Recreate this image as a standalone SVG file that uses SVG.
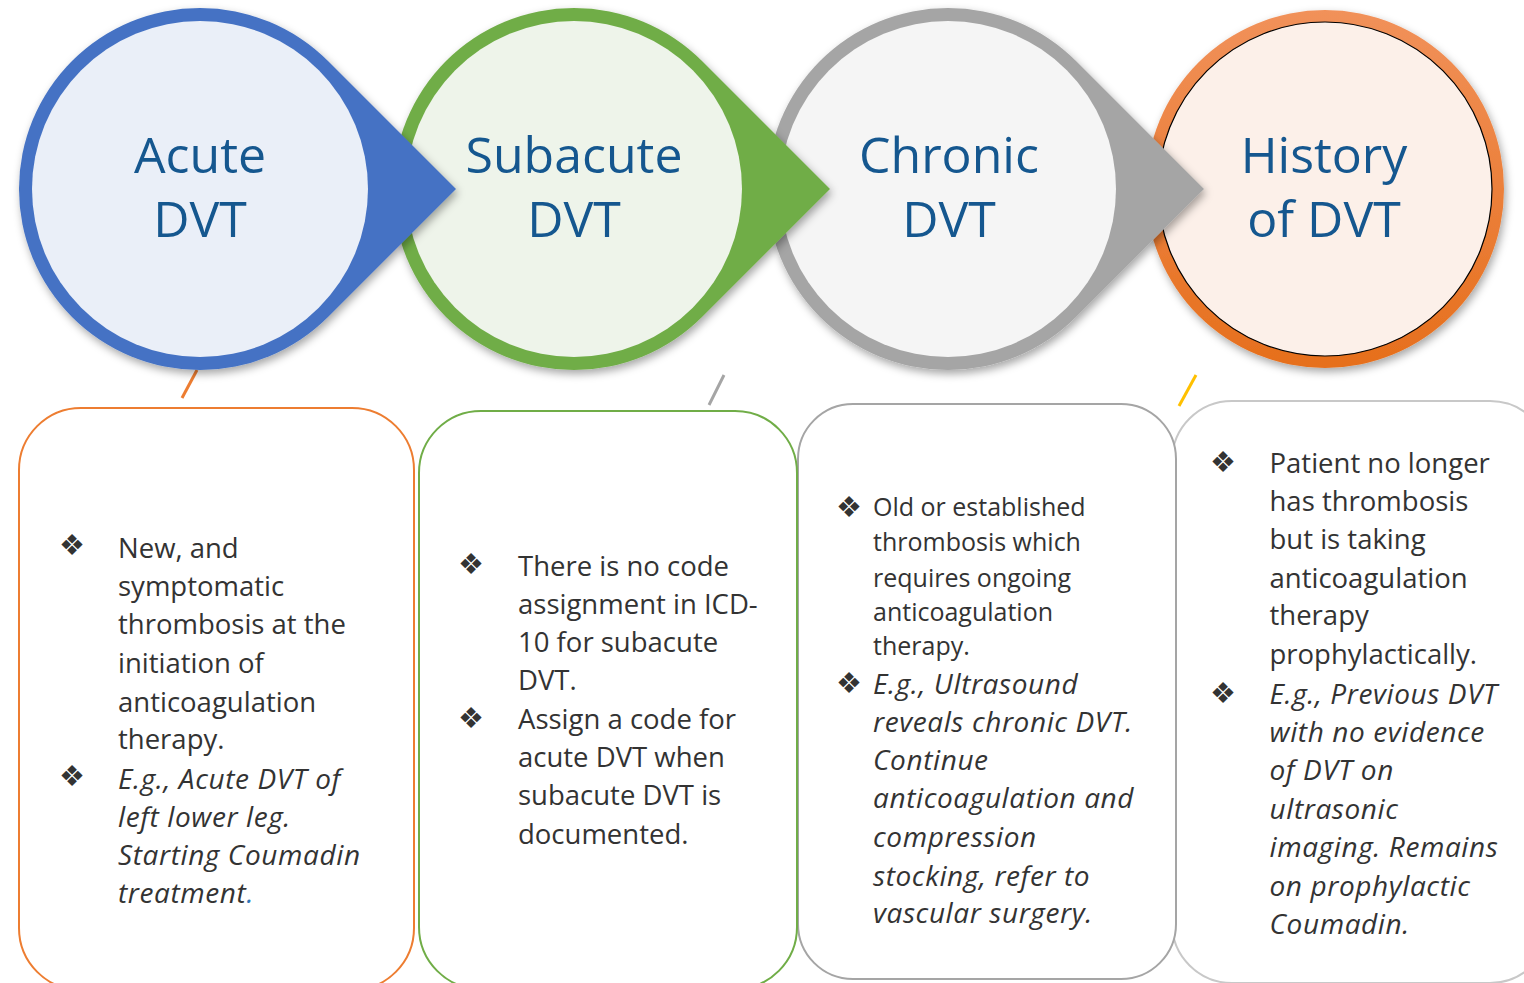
<svg xmlns="http://www.w3.org/2000/svg" width="1524" height="983" viewBox="0 0 1524 983">
<style>
.title{font-family:"Open Sans","Noto Sans",sans-serif;font-size:50px;fill:#15578F;text-anchor:middle}
.body{font-family:"Open Sans","Noto Sans",sans-serif;font-size:27.5px;fill:#333333}
.small{font-size:25px}
.it{font-style:italic;font-size:28px;letter-spacing:0.6px}
.bul{font-family:"DejaVu Sans",sans-serif;font-size:29px;fill:#333333;text-anchor:middle}
.box{fill:#FFFFFF;stroke-width:2}
.tick{stroke-width:3;stroke-linecap:butt}
</style>
<defs>
<filter id="sh" x="-20%" y="-20%" width="140%" height="140%">
<feDropShadow dx="2" dy="4" stdDeviation="4" flood-color="#000" flood-opacity="0.35"/>
</filter>
<linearGradient id="og" x1="0" y1="0" x2="0" y2="1">
<stop offset="0" stop-color="#F1915A"/>
<stop offset="1" stop-color="#E66F1C"/>
</linearGradient>
</defs>
<rect width="1524" height="983" fill="#FFFFFF"/>

<g id="box4">
<rect class="box" x="1172" y="401" width="378" height="582" rx="60" stroke="#C8C8C8"/>
<text class="bul" x="1223" y="472">❖</text>
<text class="bul" x="1223" y="703">❖</text>
<text class="body" x="1269.5">
<tspan x="1269.5" y="472.5">Patient no longer</tspan>
<tspan x="1269.5" y="511">has thrombosis</tspan>
<tspan x="1269.5" y="549">but is taking</tspan>
<tspan x="1269.5" y="587.5">anticoagulation</tspan>
<tspan x="1269.5" y="625">therapy</tspan>
<tspan x="1269.5" y="664">prophylactically.</tspan>
</text>
<text class="body it" x="1269.5">
<tspan x="1269.5" y="704">E.g., Previous DVT</tspan>
<tspan x="1269.5" y="742">with no evidence</tspan>
<tspan x="1269.5" y="780">of DVT on</tspan>
<tspan x="1269.5" y="818.5">ultrasonic</tspan>
<tspan x="1269.5" y="857">imaging. Remains</tspan>
<tspan x="1269.5" y="895.5">on prophylactic</tspan>
<tspan x="1269.5" y="933.5">Coumadin.</tspan>
</text>
</g>

<g id="box3">
<rect class="box" x="798" y="404" width="378" height="575" rx="55" stroke="#A5A5A5"/>
<text class="bul" x="849" y="517">❖</text>
<text class="bul" x="849" y="693">❖</text>
<text class="body small">
<tspan x="873" y="516">Old or established</tspan>
<tspan x="873" y="551">thrombosis which</tspan>
<tspan x="873" y="587">requires ongoing</tspan>
<tspan x="873" y="621">anticoagulation</tspan>
<tspan x="873" y="655">therapy.</tspan>
</text>
<text class="body it">
<tspan x="873" y="694">E.g., Ultrasound</tspan>
<tspan x="873" y="732">reveals chronic DVT.</tspan>
<tspan x="873" y="770">Continue</tspan>
<tspan x="873" y="808">anticoagulation and</tspan>
<tspan x="873" y="847">compression</tspan>
<tspan x="873" y="885.5">stocking, refer to</tspan>
<tspan x="873" y="923">vascular surgery.</tspan>
</text>
</g>

<g id="box2">
<rect class="box" x="419" y="411" width="378" height="578" rx="62" stroke="#70AD47"/>
<text class="bul" x="471" y="574">❖</text>
<text class="bul" x="471" y="728">❖</text>
<text class="body">
<tspan x="518" y="576">There is no code</tspan>
<tspan x="518" y="614">assignment in ICD-</tspan>
<tspan x="518" y="652">10 for subacute</tspan>
<tspan x="518" y="690">DVT.</tspan>
<tspan x="518" y="729">Assign a code for</tspan>
<tspan x="518" y="767">acute DVT when</tspan>
<tspan x="518" y="805">subacute DVT is</tspan>
<tspan x="518" y="843.5">documented.</tspan>
</text>
</g>

<g id="box1">
<rect class="box" x="19" y="408" width="395" height="582" rx="62" stroke="#ED7D31"/>
<text class="bul" x="72" y="555">❖</text>
<text class="bul" x="72" y="786">❖</text>
<text class="body">
<tspan x="118" y="557.5">New, and</tspan>
<tspan x="118" y="596">symptomatic</tspan>
<tspan x="118" y="634">thrombosis at the</tspan>
<tspan x="118" y="673">initiation of</tspan>
<tspan x="118" y="711.5">anticoagulation</tspan>
<tspan x="118" y="749">therapy.</tspan>
</text>
<text class="body it">
<tspan x="118" y="789">E.g., Acute DVT of</tspan>
<tspan x="118" y="827">left lower leg.</tspan>
<tspan x="118" y="865">Starting Coumadin</tspan>
<tspan x="118" y="903">treatment<tspan fill="#2E75B6">.</tspan></tspan>
</text>
</g>

<g id="connectors">
<line class="tick" x1="197" y1="370" x2="182" y2="398" stroke="#ED7D31"/>
<line class="tick" x1="724" y1="375" x2="709" y2="405" stroke="#A5A5A5"/>
<line class="tick" x1="1196" y1="375" x2="1179" y2="406" stroke="#FFC000"/>
</g>

<g id="history">
<circle cx="1325" cy="189" r="179" fill="url(#og)" filter="url(#sh)"/>
<circle cx="1325" cy="189" r="167" fill="#FCF0E9" stroke="#000000" stroke-width="1.2"/>
<text class="title" x="1324" y="173">History</text>
<text class="title" x="1324" y="237">of DVT</text>
</g>

<g id="chronic">
<path d="M1076,61 L1204,189 L1076,317 A181,181 0 1 1 1076,61 Z" fill="#A5A5A5" filter="url(#sh)"/>
<circle cx="948" cy="189" r="168" fill="#F5F5F5"/>
<text class="title" x="949" y="173">Chronic</text>
<text class="title" x="949" y="237">DVT</text>
</g>

<g id="subacute">
<path d="M702,61 L830,189 L702,317 A181,181 0 1 1 702,61 Z" fill="#70AD47" filter="url(#sh)"/>
<circle cx="574" cy="189" r="168" fill="#EEF4EA"/>
<text class="title" x="574" y="173">Subacute</text>
<text class="title" x="574" y="237">DVT</text>
</g>

<g id="acute">
<path d="M328,61 L456,189 L328,317 A181,181 0 1 1 328,61 Z" fill="#4472C4" filter="url(#sh)"/>
<circle cx="200" cy="189" r="168" fill="#EAEFF8"/>
<text class="title" x="200" y="173">Acute</text>
<text class="title" x="200" y="237">DVT</text>
</g>
</svg>
